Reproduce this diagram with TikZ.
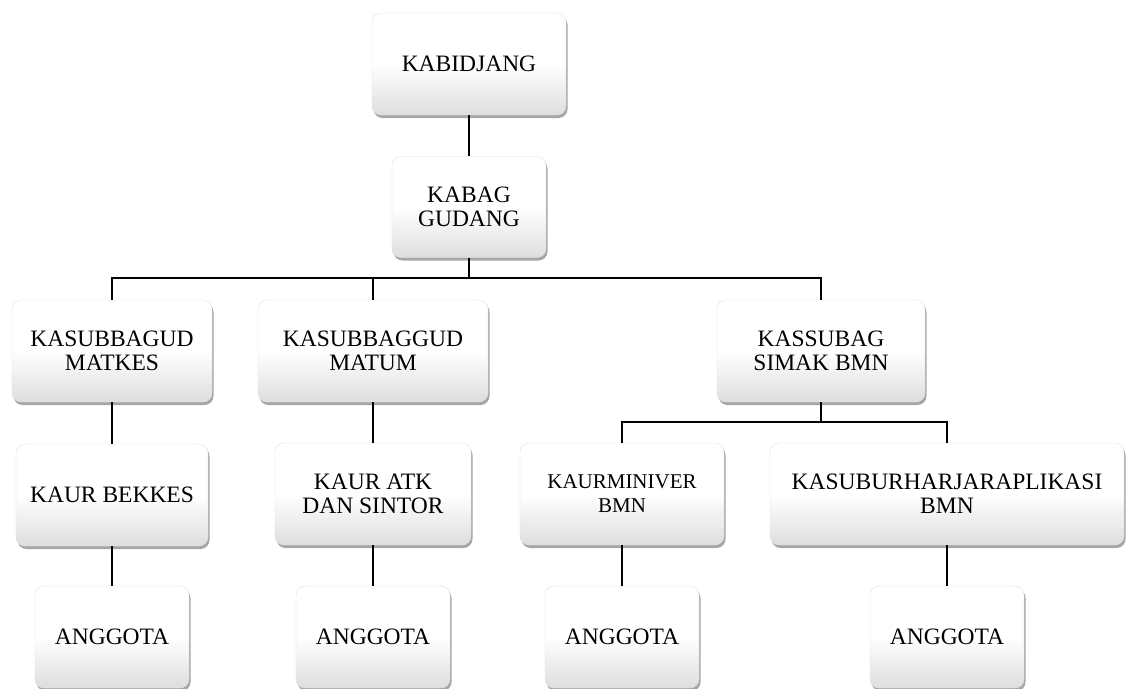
\documentclass[tikz,border=0pt]{standalone}
\usepackage{fontspec}
\setmainfont{Liberation Serif}
\usetikzlibrary{positioning,shadows,calc}

\begin{document}
\begin{tikzpicture}
	[x=1pt,y=-1pt,
	 onode/.style={rounded corners=9pt,draw=black!12,top color=white,bottom color=black!13,
	 	middle color=white,minimum width=#1,minimum height=102pt,inner sep=2pt,align=center,
	 	font=\fontsize{23.5}{24}\selectfont,
	 	drop shadow={shadow xshift=1.5pt,shadow yshift=-3pt,opacity=0.35,fill=black}},
	]
	\tikzset{org line/.style={draw,line width=2pt}}
	\useasboundingbox (0,0) rectangle (1127,688);

	\node[onode=194pt] (kabid) at (469,64) {KABIDJANG};
	\node[onode=154pt,minimum height=101pt] (kabag) at (469,207) {KABAG\\GUDANG};

	\node[onode=200pt] (sub-1) at (112,351) {KASUBBAGUD\\MATKES};
	\node[onode=230pt] (sub-2) at (373,351) {KASUBBAGGUD\\MATUM};
	\node[onode=208pt] (sub-3) at (821,351) {KASSUBAG\\SIMAK BMN};

	\node[onode=192pt] (ur-1) at (112,495) {KAUR BEKKES};
	\node[onode=196pt] (ur-2) at (373,494) {KAUR ATK\\DAN SINTOR};
	\node[onode=204pt,font=\fontsize{21}{24}\selectfont] (ur-3) at (622,494) {KAURMINIVER\\BMN};
	\node[onode=354pt] (ur-4) at (947,494) {KASUBURHARJARAPLIKASI\\BMN};

	\node[onode=154pt] (ang-1) at (112,637) {ANGGOTA};
	\node[onode=154pt] (ang-2) at (373,637) {ANGGOTA};
	\node[onode=154pt] (ang-3) at (622,637) {ANGGOTA};
	\node[onode=154pt] (ang-4) at (947,637) {ANGGOTA};

	\coordinate (bus-1) at (469,278);
	\coordinate (bus-2) at (821,422);

	\path[org line] (kabid) -- (kabag);
	\path[org line] (kabag) -- (bus-1);
	\foreach \x in {1,...,3}
	{
		\path[org line] (bus-1) -| (sub-\x);
	}
	\path[org line] (sub-1) -- (ur-1);
	\path[org line] (sub-2) -- (ur-2);
	\path[org line] (sub-3) -- (bus-2);
	\foreach \x in {3,4}
	{
		\path[org line] (bus-2) -| (ur-\x);
	}
	\foreach \x in {1,...,4}
	{
		\path[org line] (ur-\x) -- (ang-\x);
	}
\end{tikzpicture}
\end{document}
